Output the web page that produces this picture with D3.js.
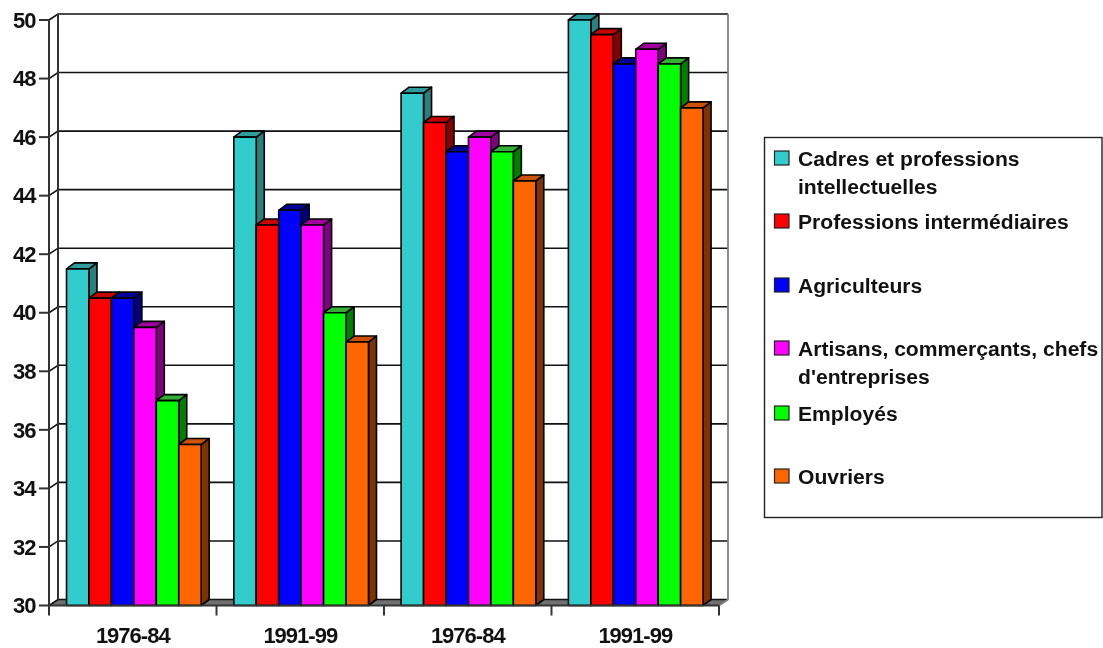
<!DOCTYPE html>
<html><head><meta charset="utf-8">
<script src="https://cdn.jsdelivr.net/npm/d3@7/dist/d3.min.js"></script>
<style>html,body{margin:0;padding:0;background:#fff}svg{display:block;filter:blur(.45px)}
text{font-family:"Liberation Sans",Arial,sans-serif;font-weight:700;fill:#111}</style>
</head><body><svg id="c" width="1103" height="648"></svg>
<script>
const categories=["1976-84","1991-99","1976-84","1991-99"];
const seriesNames=["Cadres et professions intellectuelles","Professions intermédiaires","Agriculteurs","Artisans, commerçants, chefs d'entreprises","Employés","Ouvriers"];
const legendLines=[["Cadres et professions","intellectuelles"],["Professions intermédiaires"],["Agriculteurs"],["Artisans, commerçants, chefs","d'entreprises"],["Employés"],["Ouvriers"]];
const cadres=[41.5,46,47.5,50];
const intermediaires=[40.5,43,46.5,49.5];
const agriculteurs=[40.5,43.5,45.5,48.5];
const artisans=[39.5,43,46,49];
const employes=[37,40,45.5,48.5];
const ouvriers=[35.5,39,44.5,47];
const seriesValues=[cadres,intermediaires,agriculteurs,artisans,employes,ouvriers];
const frontColors=["#33CCCC","#FF0000","#0000FF","#FF00FF","#00FF00","#FF6600"];
const topColors=["#2E9C9C","#C80000","#000099","#A000A0","#33B033","#CC5200"];
const sideColors=["#2A7F7F","#880000","#000080","#800080","#008000","#7F3300"];
const yTicks=d3.range(30,51,2);

const svg=d3.select("#c");
const L=49,R=719,B=605.5,T=20,dx=9,dy=-6,bdx=8,bdy=-6;
const y=d3.scaleLinear().domain([30,50]).range([B,T]);
const x0=d3.scaleBand().domain(d3.range(categories.length)).range([L+0.8,R+0.8]).paddingInner(0.195).paddingOuter(0.1);
const x1=d3.scaleBand().domain(d3.range(seriesNames.length)).range([0,x0.bandwidth()]);
const ink="#111";

const wall=svg.append("g");
wall.append("path").attr("d",`M${L},${B}L${L+dx},${B+dy}L${R+dx},${B+dy}L${R},${B}Z`).attr("fill","#707070").attr("stroke",ink).attr("stroke-width",1);
wall.selectAll(".g").data(yTicks).join("path")
 .attr("fill","none").attr("stroke",ink).attr("stroke-width",1.6)
 .attr("d",d=>`M${L},${y(d)}L${L+dx},${y(d)+dy}L${R+dx},${y(d)+dy}`);
wall.append("path").attr("d",`M${L+dx},${T+dy}V${B+dy}`).attr("stroke","#333").attr("stroke-width",2);
wall.append("path").attr("d",`M${R+dx},${T+dy}V${B+dy}L${R},${B}`).attr("stroke","#808080").attr("stroke-width",1.8).attr("fill","none");

const bars=svg.append("g");
categories.forEach((c,i)=>{
 seriesValues.forEach((vals,s)=>{
  const xa=x0(i)+x1(s), w=x1.bandwidth(), yt=y(vals[i]);
  const g=bars.append("g").attr("stroke","#000").attr("stroke-width",1.6).attr("stroke-linejoin","round");
  g.append("path").attr("fill",sideColors[s]).attr("d",`M${xa+w},${yt}L${xa+w+bdx},${yt+bdy}L${xa+w+bdx},${B+bdy}L${xa+w},${B}Z`);
  g.append("path").attr("fill",topColors[s]).attr("d",`M${xa},${yt}L${xa+bdx},${yt+bdy}L${xa+w+bdx},${yt+bdy}L${xa+w},${yt}Z`);
  g.append("rect").attr("x",xa).attr("y",yt).attr("width",w).attr("height",B-yt).attr("fill",frontColors[s]);
 });
});

const ax=svg.append("g").attr("stroke","#333").attr("stroke-width",2).attr("fill","none");
ax.append("path").attr("d",`M${L},${T}V${B}H${R}`);
ax.selectAll(".yt").data(yTicks).join("path").attr("d",d=>`M${L-10},${y(d)}H${L}`);
const xEdges=d3.scaleLinear().domain([0,categories.length]).range([L,R]);
ax.selectAll(".xt").data(d3.range(categories.length+1)).join("path").attr("d",d=>`M${xEdges(d)},${B}V${B+10}`);

svg.append("g").selectAll("text").data(yTicks).join("text")
 .attr("x",35.5).attr("y",d=>y(d)+7.7).attr("text-anchor","end").attr("font-size",22).attr("letter-spacing",-1).text(d=>d);
svg.append("g").selectAll("text").data(categories).join("text")
 .attr("x",(d,i)=>(xEdges(i)+xEdges(i+1))/2).attr("y",643).attr("text-anchor","middle").attr("font-size",22).attr("letter-spacing",-1).text(d=>d);

const legendY=[158,221,285,348,413,476];
const lg=svg.append("g");
lg.append("rect").attr("x",764.5).attr("y",137.5).attr("width",337.5).attr("height",380).attr("fill","#fff").attr("stroke","#222").attr("stroke-width",1.4);
legendLines.forEach((lines,s)=>{
 lg.append("rect").attr("x",774.5).attr("y",legendY[s]-7).attr("width",14.5).attr("height",14).attr("fill",frontColors[s]).attr("stroke","#222").attr("stroke-width",1.2);
 lines.forEach((t,j)=>lg.append("text").attr("x",798).attr("y",legendY[s]+8+j*28).attr("font-size",21.1).text(t));
});
</script></body></html>
